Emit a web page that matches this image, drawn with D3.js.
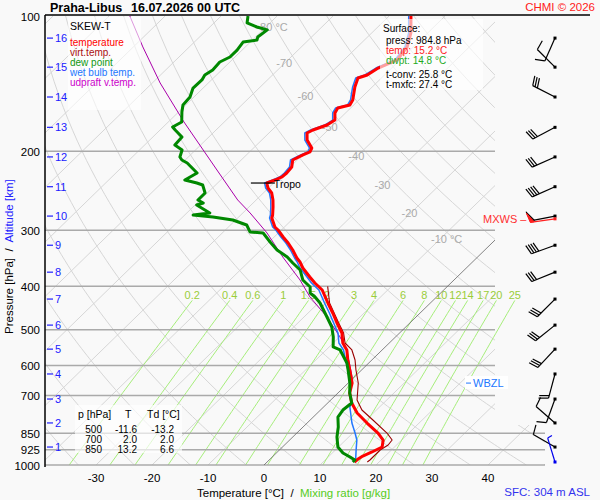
<!DOCTYPE html>
<html><head><meta charset="utf-8">
<script src="https://cdn.jsdelivr.net/npm/d3@7"></script>
<style>
body{margin:0;background:#f9f9f9;}
svg{display:block;font-family:"Liberation Sans",Arial,Helvetica,sans-serif;}
</style>
</head><body>
<svg id="c" width="600" height="500"></svg>
<script>
// ---------------- DATA ----------------
const pressureTicks = [100,200,300,400,500,600,700,850,925,1000];
const tempTicks = [-30,-20,-10,0,10,20,30,40];
const mixRatios = [0.2,0.4,0.6,1,1.5,2,3,4,6,8,10,12,14,17,20,25];
const isoLabelT = [-80,-70,-60,-50,-40,-30,-20,-10];
const isoLabelP = [106,127,151,177,205,238,275,314];

// temperature profile [p hPa, T °C]
const temperature = [[100,-56.1],[109.1,-53.0],[117.2,-51.1],[125.3,-50.5],[130.6,-52.4],[135.3,-53.1],[137.4,-54.2],[143.9,-53.1],[153.8,-51.1],[157.8,-50.7],[160.3,-52.3],[164.4,-51.9],[170.5,-50.6],[174.9,-51.1],[179.4,-52.7],[182.2,-53.2],[188.9,-51.9],[196.8,-49.6],[200.8,-49.2],[203.9,-49.9],[209.3,-50.8],[216.9,-49.7],[223.7,-49.5],[228.3,-49.6],[231.9,-50.3],[235.5,-51.2],[241.6,-50.1],[247.9,-48.5],[256.9,-47.0],[266.3,-45.7],[277.5,-44.3],[281.8,-43.9],[295.1,-41.7],[299.6,-40.6],[310.6,-38.4],[320.3,-36.4],[332.0,-34.3],[345.9,-32.1],[353.1,-30.8],[364.1,-29.2],[381.3,-26.3],[393.2,-24.3],[407.6,-21.7],[435.7,-18.3],[458.6,-15.6],[482.8,-13.0],[508.1,-10.3],[534.9,-8.3],[554.4,-6.3],[583.6,-4.3],[614.4,-2.1],[656.8,0.7],[691.3,2.1],[727.7,4.3],[766.0,7.1],[806.3,10.7],[848.8,14.5],[879.8,16.7],[911.9,17.8],[935.5,16.9],[954.9,16.0],[969.7,15.7],[984.8,15.6]];

// virtual temperature (lower part, above it coincides with temperature)
const virtTemp = [[400,-21.4],[435.7,-18.0],[482.8,-12.7],[508.1,-10.0],[534.9,-7.9],[554.4,-5.4],[583.6,-3.0],[614.4,-1.0],[656.8,1.8],[716.6,4.7],[754.3,7.4],[794.0,11.2],[848.8,16.1],[879.8,18.3],[902.5,18.5],[926.0,18.0],[959.8,18.0],[974.7,18.0],[984.8,17.9]];

// dew point
const dewPoint = [[100,-85.2],[103.6,-84.1],[105.8,-81.6],[107.4,-79.2],[111.4,-79.6],[113.1,-79.2],[114.3,-81.3],[119.1,-80.9],[123.4,-80.9],[126.6,-81.8],[131.9,-81.6],[135.3,-82.1],[138.8,-81.7],[144.7,-81.8],[151.5,-80.7],[157.8,-80.5],[163.6,-79.4],[172.2,-77.6],[176.7,-78.3],[179.4,-77.3],[186.0,-74.8],[193.8,-74.6],[198.8,-72.4],[206.1,-71.5],[209.3,-70.6],[212.5,-69.1],[223.7,-65.5],[231.9,-66.4],[235.5,-63.7],[237.9,-62.3],[247.9,-60.4],[256.9,-60.4],[260.9,-58.9],[263.6,-59.7],[274.6,-55.9],[277.5,-58.5],[280.3,-54.6],[284.7,-50.5],[292.1,-47.1],[302.8,-45.2],[304.3,-42.7],[318.7,-39.8],[332.0,-37.1],[344.1,-34.0],[354.9,-31.9],[367.9,-29.3],[387.2,-27.0],[401.4,-24.4],[413.9,-23.3],[422.5,-21.7],[435.7,-19.7],[468.1,-15.9],[492.8,-13.2],[518.7,-11.1],[545.9,-9.3],[554.4,-7.5],[592.7,-3.9],[614.4,-2.4],[656.8,0.3],[691.3,2.1],[727.7,4.3],[754.3,4.0],[781.9,4.4],[823.0,6.3],[866.4,7.9],[911.9,9.9],[940.3,11.9],[959.8,13.9],[974.7,15.3],[984.8,15.3]];

// wet bulb temperature
const wetBulb = [[100,-56.5],[109.1,-53.4],[117.2,-51.5],[125.3,-50.9],[130.6,-52.8],[135.3,-53.5],[137.4,-54.6],[143.9,-53.5],[153.8,-51.5],[157.8,-51.1],[160.3,-52.7],[164.4,-52.3],[170.5,-51.0],[174.9,-51.5],[179.4,-53.1],[182.2,-53.6],[188.9,-52.3],[196.8,-50.0],[200.8,-49.6],[203.9,-50.3],[209.3,-51.2],[216.9,-50.1],[223.7,-49.9],[228.3,-50.0],[231.9,-50.7],[235.5,-51.6],[241.6,-50.5],[247.9,-48.9],[256.9,-47.4],[266.3,-46.1],[277.5,-44.7],[281.8,-44.3],[295.1,-42.1],[299.6,-41.0],[310.6,-38.8],[320.3,-36.8],[332.0,-34.7],[345.9,-32.5],[353.1,-31.3],[364.1,-29.7],[381.3,-26.8],[393.2,-24.9],[407.6,-22.3],[435.7,-18.9],[458.6,-16.2],[482.8,-13.6],[508.1,-11.0],[534.9,-9.0],[554.4,-6.9],[583.6,-4.7],[614.4,-2.4],[656.8,0.5],[691.3,2.1],[727.7,4.3],[742.8,4.7],[806.3,8.0],[848.8,10.4],[879.8,12.0],[926.0,13.7],[964.8,15.1],[984.8,15.6]];

// updraft virtual temperature
const updraft = [[100,-106.3],[117.2,-98.3],[141.0,-88.6],[172.2,-77.2],[220.3,-62.5],[256.9,-53.3],[274.6,-48.7],[304.3,-42.0],[344.1,-34.8],[387.2,-27.5],[422.5,-22.6],[468.1,-15.9],[518.7,-9.9],[554.4,-6.3],[636.8,-0.4],[691.3,2.1]];

// altitude (km) levels and their pressures
const altKm = [1,2,3,4,5,6,7,8,9,10,11,12,13,14,15,16];
const altP  = [912,806,713,627,552,488,427,372,324,279,240,206,177,151.5,130,112];
// wind at each km level: direction (deg), speed (kt)
const windDir = [300,311,200,195,223,231,225,248,250,259,246,246,242,297,315,204];
const windSpd = [10,10,10,20,30,30,30,30,40,50,40,30,30,30,10,10];
const sfcWind = {p:984.8, dir:343, spd:5};
const mxws = {p:283, dir:262, spd:50};

const tropo = {p:235.5, T:-51.2};
const wbzlP = 657;

const surfaceLines = ["press: 984.8 hPa","temp: 15.2 °C","dwpt: 14.8 °C","t-conv: 25.8 °C","t-mxfc: 27.4 °C"];
const tableRows = [["500","-11.6","-13.2"],["700","2.0","2.0"],["850","13.2","6.6"]];
const legendItems = ["temperature","virt.temp.","dew point","wet bulb temp.","udpraft v.temp."];
const legendColors = ["#ff0000","#aa1111","#119911","#2277ff","#cc00cc"];

// ---------------- SCALES ----------------
const svg = d3.select("#c");
const L=45, R=495, T0=16, B=465;
const yP = d3.scaleLog().domain([100,1000]).range([T0,B]);
const xT = d3.scaleLinear().domain([0,10]).range([264,320]);
const SK = 1.027;
const X = (t,p) => xT(t) + (B - yP(p))*SK;
const line = d3.line().x(d=>X(d[1],d[0])).y(d=>yP(d[0]));

const defs = svg.append("defs");
const cp = defs.append("clipPath").attr("id","pc");
cp.append("rect").attr("x",L).attr("y",T0).attr("width",R-L).attr("height",B-T0);
cp.append("rect").attr("x",R-1).attr("y",425).attr("width",51).attr("height",B-425);

// ---------------- GRID ----------------
const grid = svg.append("g").attr("clip-path","url(#pc)");
const pSamp = d3.range(100,1001,10);
// isotherms
for(let t=-130;t<=50;t+=10){
  if(t===0) continue;
  grid.append("path").attr("d",line([[100,t],[1000,t]]))
    .attr("stroke","#d6d6d6").attr("stroke-width",1).attr("fill","none");
}
// dry adiabats
for(let th=220;th<=480;th+=10){
  const pts = pSamp.map(p=>[p, th*Math.pow(p/1000,0.2857)-273.15]);
  grid.append("path").attr("d",line(pts))
    .attr("stroke","#d6d6d6").attr("stroke-width",1).attr("fill","none");
}
// mixing ratio lines
function tdFromW(w,p){ const e=w*p/(622+w); const l=Math.log(e/6.112); return 243.5*l/(17.67-l); }
const mrTop = 430;
const mrP = d3.range(mrTop,1001,10);
mixRatios.forEach(w=>{
  svg.append("path").attr("d",line(mrP.map(p=>[p,tdFromW(w,p)])))
    .attr("stroke","#a6ee7a").attr("stroke-width",1).attr("fill","none");
  svg.append("text").attr("x",X(tdFromW(w,mrTop),mrTop)).attr("y",yP(mrTop)-1.5)
    .attr("text-anchor","middle").attr("font-size",11).attr("fill","#9acd3a").text(w);
});
// pressure lines
pressureTicks.slice(1).forEach(p=>{
  const xr = p>=850 ? 545 : R;
  svg.append("line").attr("x1",L).attr("x2",xr).attr("y1",yP(p)).attr("y2",yP(p))
    .attr("stroke","#aaaaaa").attr("stroke-width",1.5);
});
// 0°C isotherm
svg.append("g").attr("clip-path","url(#pc)").append("path").attr("d",line([[100,0],[1000,0]]))
  .attr("stroke","#666").attr("stroke-width",0.8).attr("fill","none");
// isotherm labels
isoLabelT.forEach((t,i)=>{
  const p=isoLabelP[i];
  svg.append("text").attr("x",X(t,p)-9).attr("y",yP(p)+4).attr("font-size",11)
    .attr("fill","#aaaaaa").text((t===-80||t===-10)? t+" °C" : t);
});

// ---------------- PROFILES ----------------
const prof = svg.append("g").attr("fill","none").attr("stroke-linejoin","round");
prof.append("path").attr("d",line(updraft)).attr("stroke","#aa00aa").attr("stroke-width",1);
prof.append("path").attr("d",line(wetBulb)).attr("stroke","#2277ff").attr("stroke-width",1.5);
prof.append("path").attr("d",line(virtTemp)).attr("stroke","#990000").attr("stroke-width",1.1);
prof.append("path").attr("d",line(temperature)).attr("stroke","#ff0000").attr("stroke-width",3);
prof.append("path").attr("d",line(dewPoint)).attr("stroke","#008800").attr("stroke-width",3);

// tropopause
const tx = X(tropo.T,tropo.p), ty=yP(tropo.p);
svg.append("line").attr("x1",tx-16).attr("x2",tx+8).attr("y1",ty).attr("y2",ty).attr("stroke","#000").attr("stroke-width",1.2);
svg.append("text").attr("x",tx+7).attr("y",ty+5).attr("font-size",10.5).attr("fill","#000").text("Tropo");

// ---------------- BOXES ----------------
// legend
svg.append("rect").attr("x",68).attr("y",17).attr("width",73).attr("height",93).attr("fill","#fff").attr("opacity",0.6);
svg.append("text").attr("x",70).attr("y",30).attr("font-size",10.5).attr("fill","#000").text("SKEW-T");
legendItems.forEach((s,i)=>svg.append("text").attr("x",70).attr("y",45.5+i*10).attr("font-size",10)
  .attr("fill",legendColors[i]).text(s));
// surface box
svg.append("rect").attr("x",380).attr("y",19).attr("width",103).attr("height",71).attr("fill","#fff").attr("opacity",0.62);
svg.append("text").attr("x",383).attr("y",31.5).attr("font-size",10).attr("fill","#000").text("Surface:");
const sCol=["#000","#ff2020","#22aa22","#000","#000"], sY=[43.5,53.5,63.5,77.5,87.5];
surfaceLines.forEach((s,i)=>svg.append("text").attr("x",386).attr("y",sY[i]).attr("font-size",10).attr("fill",sCol[i]).text(s));
// table
svg.append("rect").attr("x",75).attr("y",405).attr("width",107).attr("height",48).attr("fill","#fff").attr("opacity",0.65);
svg.append("text").attr("x",78).attr("y",418).attr("font-size",10.5).text("p [hPa]");
svg.append("text").attr("x",125).attr("y",418).attr("font-size",10.5).text("T");
svg.append("text").attr("x",147).attr("y",418).attr("font-size",10.5).text("Td [°C]");
tableRows.forEach((r,i)=>{
  const yy=432.5+i*10;
  svg.append("text").attr("x",102).attr("y",yy).attr("text-anchor","end").attr("font-size",10).text(r[0]);
  svg.append("text").attr("x",137).attr("y",yy).attr("text-anchor","end").attr("font-size",10).text(r[1]);
  svg.append("text").attr("x",174).attr("y",yy).attr("text-anchor","end").attr("font-size",10).text(r[2]);
});
// WBZL
const wy=yP(wbzlP);
svg.append("rect").attr("x",465).attr("y",wy-7).attr("width",43).attr("height",13).attr("fill","#fff");
svg.append("line").attr("x1",466).attr("x2",471).attr("y1",wy).attr("y2",wy).attr("stroke","#2277ff").attr("stroke-width",1);
svg.append("text").attr("x",473).attr("y",wy+4).attr("font-size",11).attr("fill","#2277ff").text("WBZL");
// MXWS label
const my=yP(mxws.p);
svg.append("text").attr("x",483).attr("y",my+4).attr("font-size",11).attr("fill","#ff3030").text("MXWS –");

// ---------------- AXES ----------------
svg.append("line").attr("x1",L).attr("x2",590).attr("y1",15).attr("y2",15).attr("stroke","#000").attr("stroke-width",1.5);
svg.append("line").attr("x1",L).attr("x2",L).attr("y1",15).attr("y2",B+2).attr("stroke","#000").attr("stroke-width",1.5);
pressureTicks.forEach(p=>svg.append("text").attr("x",40).attr("y",yP(p)+4.5).attr("text-anchor","end")
  .attr("font-size",11.5).attr("fill","#000").text(p));
tempTicks.forEach(t=>svg.append("text").attr("x",xT(t)).attr("y",482).attr("text-anchor","middle")
  .attr("font-size",11.5).attr("fill","#000").text(t));
altKm.forEach((k,i)=>{
  const yy=yP(altP[i]);
  svg.append("line").attr("x1",47).attr("x2",53).attr("y1",yy).attr("y2",yy).attr("stroke","#2020ff").attr("stroke-width",1.2);
  svg.append("text").attr("x",55).attr("y",yy+4).attr("font-size",11).attr("fill","#2020ff").text(k);
});
// titles
svg.append("text").attr("x",50).attr("y",12).attr("font-size",12.5).attr("font-weight","bold").text("Praha-Libus");
svg.append("text").attr("x",131).attr("y",12).attr("font-size",12.5).attr("font-weight","bold").text("16.07.2026 00 UTC");
svg.append("text").attr("x",595).attr("y",11).attr("text-anchor","end").attr("font-size",11.5).attr("fill","#ff2020").text("CHMI © 2026");
const xl = svg.append("text").attr("x",197).attr("y",497).attr("font-size",11.5).style("white-space","pre");
xl.append("tspan").attr("fill","#000").text("Temperature [°C]  /  ");
xl.append("tspan").attr("fill","#55cc22").text("Mixing ratio [g/kg]");
svg.append("text").attr("x",590).attr("y",496).attr("text-anchor","end").attr("font-size",11.5).attr("fill","#3333ee").text("SFC: 304 m ASL");
const yl = svg.append("text").attr("transform","translate(13,334) rotate(-90)").attr("font-size",11.5).style("white-space","pre");
yl.append("tspan").attr("fill","#000").text("Pressure [hPa]  /  ");
yl.append("tspan").attr("fill","#2020ff").text("Altitude [km]");

// ---------------- WIND BARBS ----------------
const BX = 555;
function barb(yy, dir, spd, col, fill){
  const g = svg.append("g");
  const r = dir*Math.PI/180;
  const u = [Math.sin(r), -Math.cos(r)], pp=[Math.cos(r), Math.sin(r)];
  const Ls=25, F=10, S=2.6, a=75*Math.PI/180;
  const f=[Math.cos(a)*u[0]+Math.sin(a)*pp[0], Math.cos(a)*u[1]+Math.sin(a)*pp[1]];
  const ex=BX+u[0]*Ls, ey=yy+u[1]*Ls;
  g.append("line").attr("x1",BX).attr("y1",yy).attr("x2",ex).attr("y2",ey).attr("stroke",col).attr("stroke-width",1.2);
  let s=spd, pos=0;
  while(s>=50){
    const bx=ex-u[0]*pos, by=ey-u[1]*pos;
    g.append("path").attr("d",`M${bx},${by}L${bx+f[0]*F},${by+f[1]*F}L${bx-u[0]*4},${by-u[1]*4}Z`)
      .attr("fill",fill).attr("stroke",col).attr("stroke-width",1);
    pos+=5; s-=50;
  }
  while(s>=10){
    const bx=ex-u[0]*pos, by=ey-u[1]*pos;
    g.append("line").attr("x1",bx).attr("y1",by).attr("x2",bx+f[0]*F).attr("y2",by+f[1]*F).attr("stroke",col).attr("stroke-width",1.2);
    pos+=S; s-=10;
  }
  if(s>=5){
    const bx=ex-u[0]*pos, by=ey-u[1]*pos;
    g.append("line").attr("x1",bx).attr("y1",by).attr("x2",bx+f[0]*F*0.5).attr("y2",by+f[1]*F*0.5).attr("stroke",col).attr("stroke-width",1.2);
  }
  g.append("rect").attr("x",BX-1.5).attr("y",yy-1.5).attr("width",3).attr("height",3).attr("fill",col);
}
altKm.forEach((k,i)=>barb(yP(altP[i]), windDir[i], windSpd[i], "#000", "#000"));
barb(yP(mxws.p), mxws.dir, mxws.spd, "#ff2020", "#ff2020");
barb(yP(sfcWind.p), sfcWind.dir, sfcWind.spd, "#0000ee", "#0000ee");
</script>
</body></html>
